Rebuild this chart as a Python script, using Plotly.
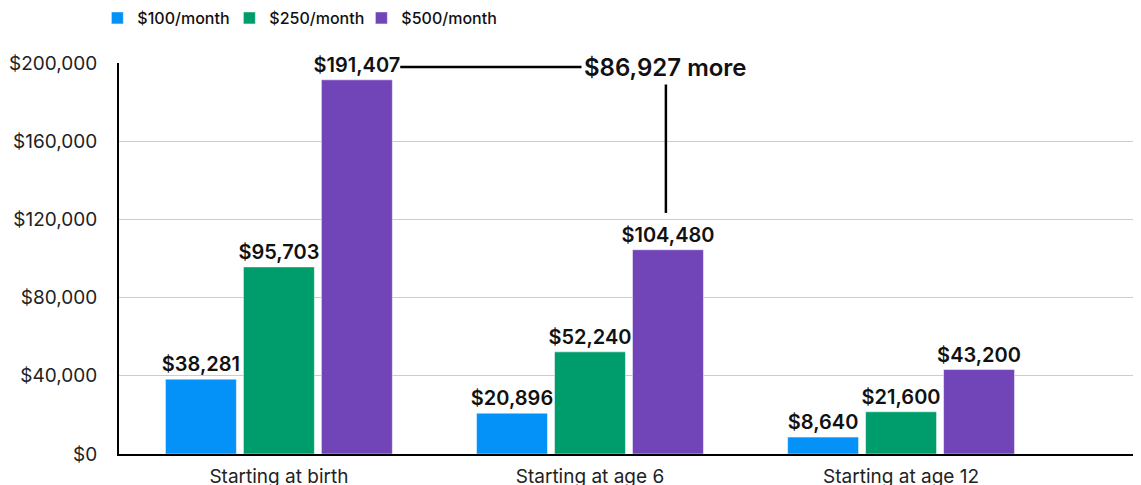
import plotly.graph_objects as go

# savings by starting age
categories = ["Starting at birth", "Starting at age 6", "Starting at age 12"]
series_names = ["$100/month", "$250/month", "$500/month"]
monthly_100 = [38281, 20896, 8640]
monthly_250 = [95703, 52240, 21600]
monthly_500 = [191407, 104480, 43200]
colors = ["#0492F9", "#009D6C", "#7145B8"]
y_ticks = [0, 40000, 80000, 120000, 160000, 200000]
y_ticklabels = ["$0", "$40,000", "$80,000", "$120,000", "$160,000", "$200,000"]
difference_label = "$86,927 more"

fig = go.Figure()
for name, vals, col in zip(series_names, [monthly_100, monthly_250, monthly_500], colors):
    fig.add_trace(go.Bar(
        x=categories, y=vals, name=name, marker_color=col,
        text=[f"${v:,}" for v in vals], textposition="outside",
        textfont=dict(family="Inter", size=20, color="#111", weight=600),
        constraintext="none", cliponaxis=False,
    ))
# empty legend spacer so the last legend entry isn't clipped
fig.add_trace(go.Scatter(x=[None], y=[None], mode="markers", name=" ",
                         marker=dict(color="rgba(255,255,255,0)", size=1,
                                     line=dict(width=0)),
                         hoverinfo="skip"))

# the page adds an 8px body margin, so margins are shifted accordingly
fig.update_layout(
    template="plotly_white",
    width=1141, height=485,
    margin=dict(l=111, r=0, t=55, b=39, autoexpand=False),
    barmode="group", bargap=0.248, bargroupgap=0.09,
    font=dict(family="Inter", color="#222"),
    legend=dict(orientation="h", x=-0.021, xanchor="left", y=1.115, yref="paper",
                yanchor="middle", font=dict(size=16, color="#111", weight=500),
                traceorder="normal", entrywidth=87, bgcolor="rgba(0,0,0,0)"),
    plot_bgcolor="white", paper_bgcolor="white",
)
fig.update_xaxes(range=[-0.514, 2.797], showline=True, linecolor="black", linewidth=2,
                 showgrid=False, tickfont=dict(size=19, color="#222"), ticks="",
                 ticklabelstandoff=4, automargin=False)
fig.update_yaxes(range=[0, 200000], tickvals=y_ticks, ticktext=y_ticklabels,
                 showline=True, linecolor="black", linewidth=2,
                 gridcolor="#cccccc", gridwidth=1, zeroline=False,
                 tickfont=dict(size=19, color="#222"), ticklabelstandoff=16,
                 automargin=False)

# callout: difference between starting at birth and at age 6 ($500/month)
fig.add_shape(type="line", xref="x", yref="y", x0=0.39, x1=0.975, y0=197900, y1=197900,
              line=dict(color="black", width=2.5))
fig.add_shape(type="line", xref="x", yref="y", x0=1.244, x1=1.244, y0=189800, y1=123300,
              line=dict(color="black", width=2.5))
fig.add_annotation(x=1.244, y=197900, xref="x", yref="y", text=difference_label,
                   showarrow=False, font=dict(family="Inter", size=24, color="#111", weight=600),
                   bgcolor="white", borderpad=2)

fig.write_html("out.html")
